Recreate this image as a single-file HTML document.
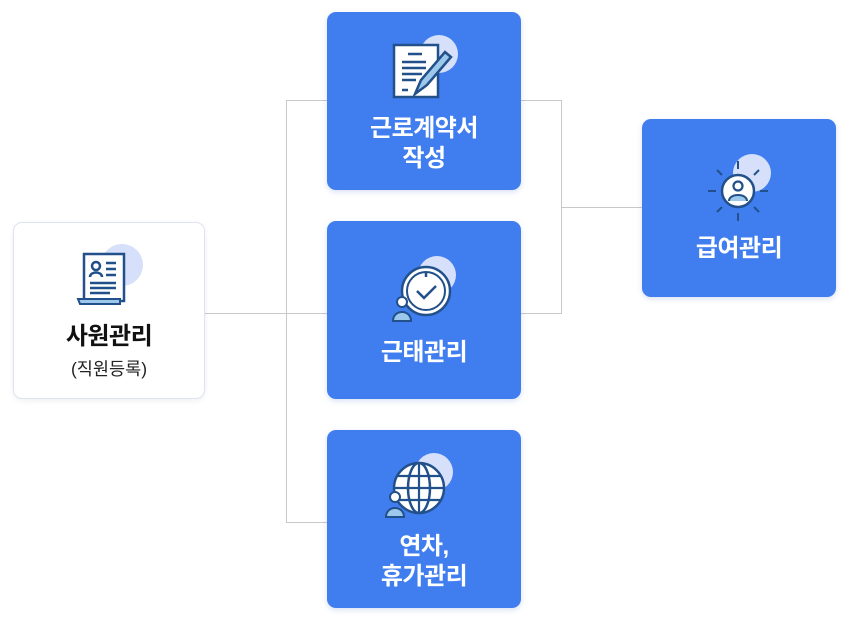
<!DOCTYPE html>
<html><head><meta charset="utf-8"><style>
body{margin:0;width:848px;height:621px;background:#fff;position:relative;font-family:"Liberation Sans","Noto Sans CJK KR",sans-serif;overflow:hidden}
.b{position:absolute;width:194px;height:178px;border-radius:9px;background:#407ef0;color:#fff;box-shadow:0 2px 6px rgba(60,100,200,.2)}
.t{position:absolute;left:0;right:0;text-align:center;font-weight:bold;font-size:24px;line-height:30px;letter-spacing:-0.5px}
.l{position:absolute;background:#c8c8c8}
svg{position:absolute}
</style></head><body>
<div class="l" style="left:205px;top:313px;width:122px;height:1px"></div>
<div class="l" style="left:286px;top:100px;width:1px;height:422px"></div>
<div class="l" style="left:286px;top:100px;width:41px;height:1px"></div>
<div class="l" style="left:286px;top:522px;width:41px;height:1px"></div>
<div class="l" style="left:521px;top:100px;width:40px;height:1px"></div>
<div class="l" style="left:521px;top:313px;width:40px;height:1px"></div>
<div class="l" style="left:561px;top:100px;width:1px;height:214px"></div>
<div class="l" style="left:561px;top:207px;width:81px;height:1px"></div>

<div class="b" style="left:13px;top:222px;width:192px;height:177px;background:#fff;border:1px solid #dde3f0;box-sizing:border-box;color:#111;box-shadow:0 2px 6px rgba(0,0,0,.06)">
<svg style="left:62px;top:18px" width="70" height="70" viewBox="0 0 70 70"><circle cx="46" cy="24" r="21" fill="#d6e0fa"/><path d="M8 13h40v47H8z" fill="#fff" stroke="#22508a" stroke-width="2.5"/><path d="M2 58h42v5H4z" fill="#9cc8ec" stroke="#22508a" stroke-width="2"/><circle cx="20" cy="25" r="4" fill="none" stroke="#22508a" stroke-width="2.5"/><path d="M14 36c0-6 12-6 12 0M30 22h10M30 28h10M30 34h10M14 42h26M14 47h26M14 52h20" stroke="#22508a" stroke-width="2.5" fill="none"/></svg>
<div class="t" style="top:99px">사원관리</div>
<div style="position:absolute;left:0;right:0;top:133px;text-align:center;font-size:17.5px;color:#222">(직원등록)</div>
</div>

<div class="b" style="left:327px;top:12px">
<svg style="left:60px;top:20px" width="80" height="70" viewBox="0 0 80 70"><circle cx="52" cy="22" r="19" fill="#d6e0fa"/><path d="M7 13h44v52H7z" fill="#fff" stroke="#22508a" stroke-width="2.5"/><path d="M21 22h14M15 30h24M15 36h24M15 42h20M15 48h14M15 58h6" stroke="#22508a" stroke-width="2.5"/><path d="M28 62l6-14 24-28 6 5-24 28z" fill="#9cc8ec" stroke="#22508a" stroke-width="2.5"/></svg>
<div class="t" style="top:102px">근로계약서<br>작성</div></div>

<div class="b" style="left:327px;top:221px">
<svg style="left:62px;top:32px" width="75" height="70" viewBox="0 0 75 70"><circle cx="48" cy="22" r="19" fill="#d6e0fa"/><circle cx="37" cy="38" r="24" fill="#fff" stroke="#22508a" stroke-width="2.5"/><circle cx="37" cy="38" r="19" fill="none" stroke="#22508a" stroke-width="2"/><path d="M28 38l7 7 12-12M37 20v4" stroke="#22508a" stroke-width="2.5" fill="none"/><circle cx="13" cy="49" r="5" fill="#fff" stroke="#22508a" stroke-width="2"/><path d="M4 68c0-12 18-12 18 0z" fill="#9cc8ec" stroke="#22508a" stroke-width="2"/></svg>
<div class="t" style="top:117px">근태관리</div></div>

<div class="b" style="left:327px;top:430px">
<svg style="left:55px;top:20px" width="80" height="70" viewBox="0 0 80 70"><circle cx="52" cy="22" r="19" fill="#d6e0fa"/><circle cx="37" cy="38" r="25" fill="#fff" stroke="#22508a" stroke-width="2.5"/><ellipse cx="37" cy="38" rx="11" ry="25" fill="none" stroke="#22508a" stroke-width="2.5"/><path d="M12 38h50M37 13v50M16 26h42M16 50h42" stroke="#22508a" stroke-width="2.2"/><circle cx="13" cy="47" r="5" fill="#fff" stroke="#22508a" stroke-width="2"/><path d="M4 67c0-12 18-12 18 0z" fill="#9cc8ec" stroke="#22508a" stroke-width="2"/></svg>
<div class="t" style="top:102px">연차,<br>휴가관리</div></div>

<div class="b" style="left:642px;top:119px">
<svg style="left:62px;top:30px" width="75" height="75" viewBox="0 0 75 75"><circle cx="48" cy="24" r="19" fill="#d6e0fa"/><circle cx="34" cy="42" r="16" fill="#fff" stroke="#22508a" stroke-width="2.5"/><circle cx="34" cy="37" r="4.5" fill="none" stroke="#22508a" stroke-width="2.2"/><path d="M25 52c0-8 18-8 18 0" fill="#9cc8ec" stroke="#22508a" stroke-width="2"/><path d="M34 20v-8M34 64v8M12 42h-8M56 42h8M18 26l-5-5M50 26l5-5M18 58l-5 5M50 58l5 5" stroke="#22508a" stroke-width="2"/></svg>
<div class="t" style="top:115px">급여관리</div></div>
</body></html>
